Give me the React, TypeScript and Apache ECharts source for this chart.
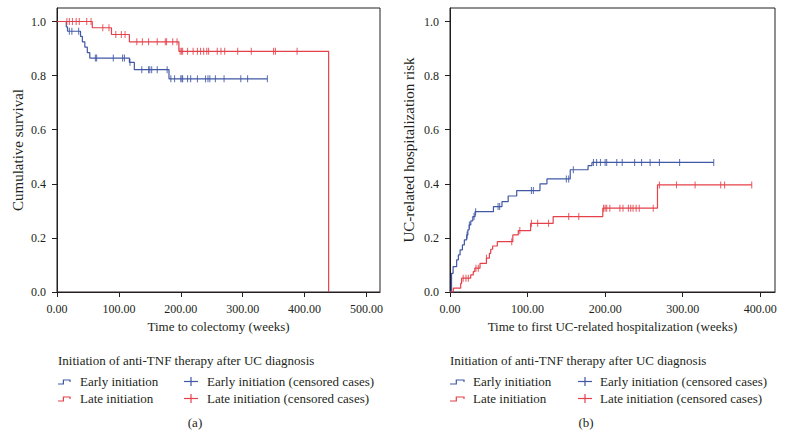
import React, { useEffect, useRef } from "react";
import * as echarts from "echarts";

// ---------- data ----------
const xTicksA = [0, 100, 200, 300, 400, 500];
const xTicksB = [0, 100, 200, 300, 400];
const yTicks = [0, 0.2, 0.4, 0.6, 0.8, 1.0];

// (a) Kaplan–Meier survival, early initiation
const earlySurvTimes = [0, 15, 17, 38, 41, 45, 49, 53, 117, 125, 181, 340];
const earlySurvValues = [1.0, 0.98, 0.964, 0.945, 0.925, 0.905, 0.885, 0.865, 0.849, 0.822, 0.788, 0.788];
const earlySurvCensored = [20, 24, 35, 62, 64, 91, 106, 109, 118, 137, 148, 150, 153, 162, 178, 184, 190, 200, 202, 203, 211, 216, 227, 240, 244, 247, 256, 270, 297, 308, 340];

// (a) Kaplan–Meier survival, late initiation
const lateSurvTimes = [0, 57, 88, 117, 197, 439];
const lateSurvValues = [1.0, 0.977, 0.952, 0.925, 0.89, 0.0];
const lateSurvCensored = [16, 20, 25, 31, 36, 48, 55, 74, 84, 95, 104, 110, 129, 138, 148, 162, 175, 177, 187, 194, 199, 201, 203, 211, 220, 227, 232, 237, 242, 245, 259, 265, 271, 292, 314, 350, 353, 388];

// (b) cumulative hospitalization risk, early initiation
const earlyRiskTimes = [0, 2, 4, 8.6, 10.8, 13, 16, 18.5, 21.5, 23, 24.7, 26.8, 29.4, 32.3, 56, 67, 75, 86, 116, 125, 155, 178, 183, 340];
const earlyRiskValues = [0, 0.069, 0.094, 0.119, 0.137, 0.156, 0.174, 0.193, 0.211, 0.23, 0.248, 0.263, 0.279, 0.297, 0.316, 0.334, 0.355, 0.375, 0.4, 0.418, 0.452, 0.467, 0.479, 0.479];
const earlyRiskCensored = [22, 25, 31, 33, 62, 64, 105, 107.5, 150, 153, 159, 185, 189, 194, 200, 202, 215, 222, 238, 247, 258, 270, 296, 340];

// (b) cumulative hospitalization risk, late initiation
const lateRiskTimes = [0, 4.3, 13.8, 15, 26.7, 30, 32, 38.7, 47, 50.8, 52.5, 55, 61, 81, 88, 104, 133, 197, 267.5, 389];
const lateRiskValues = [0, 0.014, 0.032, 0.051, 0.063, 0.075, 0.088, 0.106, 0.125, 0.143, 0.158, 0.17, 0.186, 0.211, 0.227, 0.254, 0.279, 0.31, 0.396, 0.396];
const lateRiskCensored = [17, 20.6, 23.6, 33.5, 36.5, 47, 79.6, 90, 105, 113, 127, 153, 166, 198, 200, 202, 206, 219, 223, 230, 233, 236, 240, 244, 262, 270, 292, 316, 349, 354, 389];

const legendTitle = "Initiation of anti-TNF therapy after UC diagnosis";
const legendLabels = ["Early initiation", "Late initiation", "Early initiation (censored cases)", "Late initiation (censored cases)"];

// ---------- styling ----------
const FONT = '"Liberation Serif", "DejaVu Serif", serif';
const TXT = "#231f20";
const BLUE = "#4058a5";
const RED = "#e5414a";

function stepAt(times: number[], values: number[], t: number) {
  let v = values[0];
  for (let i = 0; i < times.length; i++) if (times[i] <= t) v = values[i];
  return v;
}
const pairs = (ts: number[], vs: number[]) => ts.map((t, i) => [t, vs[i]]);
const censorPts = (cs: number[], ts: number[], vs: number[]) => cs.map((c) => [c, stepAt(ts, vs, c)]);

function axisBase(nameSize: number) {
  return {
    type: "value" as const,
    axisLine: { show: true, lineStyle: { color: TXT, width: 1 } },
    splitLine: { show: false },
    nameTextStyle: { color: TXT, fontFamily: FONT, fontSize: nameSize },
  };
}

function legendGraphics(x0: number, iconW: number, textX: number, plusX: number, plusTextX: number, label: string, labelX: number) {
  const y1 = 381.5;
  const y2 = 398.5;
  const ts = { fontFamily: FONT, fontSize: 13, fill: TXT };
  const stepIcon = (y: number, color: string) => ({
    type: "polyline",
    shape: {
      points: [
        [x0, y + 2.5],
        [x0 + iconW * 0.45, y + 2.5],
        [x0 + iconW * 0.45, y - 1.5],
        [x0 + iconW, y - 1.5],
        [x0 + iconW, y + 0.5],
      ],
    },
    style: { stroke: color, lineWidth: 1.2, fill: null },
  });
  const plusIcon = (y: number, color: string) => [
    { type: "line", shape: { x1: plusX - 7, y1: y, x2: plusX + 7, y2: y }, style: { stroke: color, lineWidth: 1.2 } },
    { type: "line", shape: { x1: plusX, y1: y - 4.5, x2: plusX, y2: y + 4.5 }, style: { stroke: color, lineWidth: 1.2 } },
  ];
  return [
    { type: "text", x: x0, y: 360, style: { ...ts, text: legendTitle, verticalAlign: "middle" } },
    stepIcon(y1, BLUE),
    { type: "text", x: textX, y: y1, style: { ...ts, text: legendLabels[0], verticalAlign: "middle" } },
    stepIcon(y2, RED),
    { type: "text", x: textX, y: y2, style: { ...ts, text: legendLabels[1], verticalAlign: "middle" } },
    ...plusIcon(y1, BLUE),
    { type: "text", x: plusTextX, y: y1, style: { ...ts, text: legendLabels[2], verticalAlign: "middle" } },
    ...plusIcon(y2, RED),
    { type: "text", x: plusTextX, y: y2, style: { ...ts, text: legendLabels[3], verticalAlign: "middle" } },
    { type: "text", x: labelX, y: 422, style: { ...ts, text: label, align: "center", verticalAlign: "middle" } },
  ];
}

export default function App() {
  const ref = useRef<HTMLDivElement>(null);

  useEffect(() => {
    document.body.style.margin = "0";
    if (!ref.current) return;
    const chart = echarts.init(ref.current, null, { renderer: "svg" });

    const xAxisCfg = (gi: number, max: number, ticks: number[], name: string) => ({
      ...axisBase(13),
      gridIndex: gi,
      min: 0,
      max,
      name,
      nameLocation: "middle",
      nameGap: 24,
      axisTick: { show: true, length: 5, lineStyle: { color: TXT }, customValues: ticks },
      axisLabel: {
        color: TXT,
        fontFamily: FONT,
        fontSize: 12,
        margin: 11,
        customValues: ticks,
        formatter: (v: number) => v.toFixed(2),
      },
    });
    const yAxisCfg = (gi: number, name: string, gap: number) => ({
      ...axisBase(15),
      gridIndex: gi,
      min: 0,
      max: 1.05,
      name,
      nameLocation: "middle",
      nameGap: gap,
      axisTick: { show: true, length: 5, lineStyle: { color: TXT }, customValues: yTicks },
      axisLabel: {
        color: TXT,
        fontFamily: FONT,
        fontSize: 12,
        margin: 11,
        customValues: yTicks,
        formatter: (v: number) => v.toFixed(1),
      },
    });

    const stepSeries = (name: string, gi: number, data: number[][], color: string) => ({
      name,
      type: "line",
      xAxisIndex: gi,
      yAxisIndex: gi,
      step: "end",
      symbol: "none",
      data,
      lineStyle: { color, width: 1.2 },
      itemStyle: { color },
      z: 2,
    });
    const censorSeries = (name: string, gi: number, data: number[][], color: string) => ({
      name,
      type: "scatter",
      xAxisIndex: gi,
      yAxisIndex: gi,
      symbol: "rect",
      symbolSize: [1.1, 7],
      data,
      itemStyle: { color },
      z: 3,
    });

    chart.setOption({
      animation: false,
      textStyle: { fontFamily: FONT },
      grid: [
        { left: 57, top: 8, width: 323, height: 284, show: true, borderColor: TXT, borderWidth: 1, backgroundColor: "transparent" },
        { left: 450, top: 8, width: 325, height: 284, show: true, borderColor: TXT, borderWidth: 1, backgroundColor: "transparent" },
      ],
      xAxis: [
        xAxisCfg(0, 522, xTicksA, "Time to colectomy (weeks)"),
        xAxisCfg(1, 419, xTicksB, "Time to first UC-related hospitalization (weeks)"),
      ],
      yAxis: [yAxisCfg(0, "Cumulative survival", 32), yAxisCfg(1, "UC-related hospitalization risk", 34)],
      series: [
        stepSeries("Early initiation", 0, pairs(earlySurvTimes, earlySurvValues), BLUE),
        stepSeries("Late initiation", 0, pairs(lateSurvTimes, lateSurvValues), RED),
        censorSeries("Early initiation (censored cases)", 0, censorPts(earlySurvCensored, earlySurvTimes, earlySurvValues), BLUE),
        censorSeries("Late initiation (censored cases)", 0, censorPts(lateSurvCensored, lateSurvTimes, lateSurvValues), RED),
        stepSeries("Early initiation ", 1, pairs(earlyRiskTimes, earlyRiskValues), BLUE),
        stepSeries("Late initiation ", 1, pairs(lateRiskTimes, lateRiskValues), RED),
        censorSeries("Early initiation (censored cases) ", 1, censorPts(earlyRiskCensored, earlyRiskTimes, earlyRiskValues), BLUE),
        censorSeries("Late initiation (censored cases) ", 1, censorPts(lateRiskCensored, lateRiskTimes, lateRiskValues), RED),
      ],
      graphic: [
        ...legendGraphics(58, 12, 80, 191, 207, "(a)", 195),
        ...legendGraphics(450, 14, 473, 585, 600, "(b)", 586),
      ],
    });

    return () => chart.dispose();
  }, []);

  return <div ref={ref} style={{ width: 785, height: 447, background: "#fff" }} />;
}
